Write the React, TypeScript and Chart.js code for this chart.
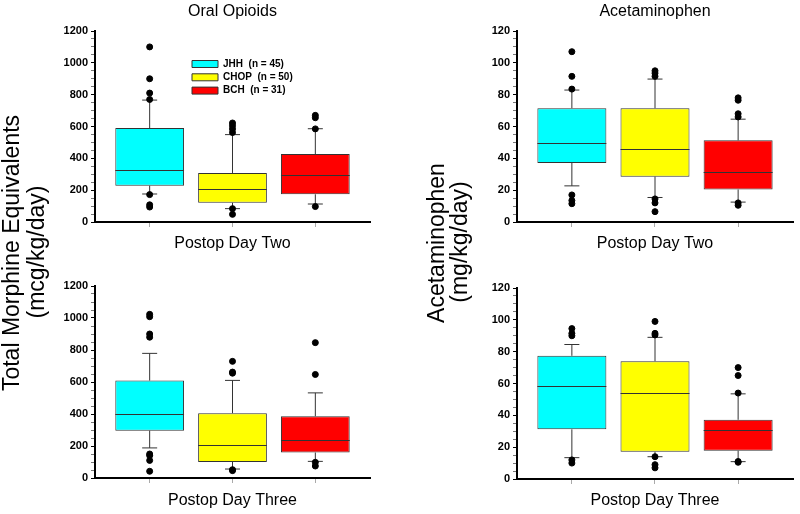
import React, { useEffect, useRef } from 'react';
import { Chart, registerables } from 'chart.js';

Chart.register(...registerables);

const FONT = '"Liberation Sans", Arial, Helvetica, sans-serif';

const hospitals = ['JHH', 'CHOP', 'BCH'];
const legendLabels = ['JHH  (n = 45)', 'CHOP  (n = 50)', 'BCH  (n = 31)'];
const boxColors = ['#00FFFF', '#FFFF00', '#FF0000'];
const positions = [1, 2, 3];

const opioidMajorTicks = [0, 200, 400, 600, 800, 1000, 1200];
const acetMajorTicks = [0, 20, 40, 60, 80, 100, 120];

// each row: [lower whisker, Q1, median, Q3, upper whisker] for JHH, CHOP, BCH
const opioidDay2Stats = [
  [176, 228, 327, 590, 766],
  [84, 121, 205, 308, 549],
  [113, 174, 297, 427, 586],
];
const opioidDay2Outliers = [
  [1100, 900, 810, 770, 172, 108, 94],
  [622, 605, 585, 562, 84, 48],
  [670, 655, 585, 97],
];

const acetDay2Stats = [
  [22.7, 37.1, 49.8, 71.5, 82.9],
  [15.4, 28.5, 46, 71.5, 89.8],
  [12.5, 20.4, 31.3, 51.3, 64.6],
];
const acetDay2Outliers = [
  [107, 91.5, 83.5, 17, 13.5, 11.5],
  [95, 93.5, 91.5, 14.5, 12, 6.5],
  [78, 76.5, 68, 66, 12, 10.5],
];

const opioidDay3Stats = [
  [188, 296, 399, 609, 779],
  [56, 100, 209, 405, 610],
  [104, 159, 240, 386, 532],
];
const opioidDay3Outliers = [
  [1023, 1008, 900, 880, 150, 140, 110, 42],
  [729, 662, 655, 52, 46],
  [846, 647, 98, 75],
];

const acetDay3Stats = [
  [13.4, 31.2, 58.5, 77.4, 84.5],
  [14, 17.1, 53.9, 74, 89],
  [10.9, 17.8, 30.5, 37.2, 53.5],
];
const acetDay3Outliers = [
  [94.5, 91.5, 90, 12, 10],
  [99, 91.5, 90.5, 14, 9, 7],
  [70, 65, 54, 11, 10.5],
];

type PanelProps = {
  stats: number[][];
  outliers: number[][];
  title?: string;
  xTitle: string;
  yMax: number;
  minorStep: number;
  majorTicks: number[];
  showLegend: boolean;
  left: number;
  top: number;
  yWidth: number;
  padRight: number;
  padTop: number;
  xHeight: number;
};

function Panel(p: PanelProps) {
  const ref = useRef<HTMLCanvasElement | null>(null);

  useEffect(() => {
    const canvas = ref.current;
    if (!canvas) return;

    const boxPlugin = {
      id: 'boxWhiskers',
      beforeDatasetsDraw(chart: any) {
        const { ctx, scales } = chart;
        const xs = scales.x;
        const ys = scales.y;
        ctx.save();
        ctx.strokeStyle = '#333';
        ctx.lineWidth = 1;
        p.stats.forEach((s, i) => {
          const cx = xs.getPixelForValue(positions[i]);
          const cap = 7.5;
          const yLo = ys.getPixelForValue(s[0]);
          const yQ1 = ys.getPixelForValue(s[1]);
          const yQ3 = ys.getPixelForValue(s[3]);
          const yHi = ys.getPixelForValue(s[4]);
          ctx.beginPath();
          ctx.moveTo(cx, yQ3);
          ctx.lineTo(cx, yHi);
          ctx.moveTo(cx - cap, yHi);
          ctx.lineTo(cx + cap, yHi);
          ctx.moveTo(cx, yQ1);
          ctx.lineTo(cx, yLo);
          ctx.moveTo(cx - cap, yLo);
          ctx.lineTo(cx + cap, yLo);
          ctx.stroke();
        });
        ctx.restore();
      },
      afterDatasetsDraw(chart: any) {
        const { ctx, scales } = chart;
        const xs = scales.x;
        const ys = scales.y;
        ctx.save();
        ctx.strokeStyle = '#333';
        ctx.lineWidth = 1;
        p.stats.forEach((s, i) => {
          const meta = chart.getDatasetMeta(i + 1);
          const el = meta && meta.data[0];
          const half = el ? el.width / 2 : 30;
          const cx = xs.getPixelForValue(positions[i]);
          const ym = Math.round(ys.getPixelForValue(s[2])) + 0.5;
          ctx.beginPath();
          ctx.moveTo(cx - half, ym);
          ctx.lineTo(cx + half, ym);
          ctx.stroke();
        });
        ctx.restore();
      },
    };

    const legendPlace = {
      id: 'legendPlace',
      afterLayout(chart: any) {
        const lg = chart.legend;
        if (!lg || !p.showLegend) return;
        const w = lg.width;
        const h = lg.height;
        lg.left = 188.7;
        lg.top = 55.7;
        lg.right = lg.left + w;
        lg.bottom = lg.top + h;
      },
    };

    const datasets: any[] = [
      {
        type: 'scatter',
        label: 'outliers',
        data: p.outliers.flatMap((arr, i) => arr.map((v) => ({ x: positions[i], y: v }))),
        backgroundColor: '#000',
        borderColor: '#000',
        pointRadius: 3,
        pointHoverRadius: 3,
        order: 0,
      },
      ...hospitals.map((h, i) => ({
        type: 'bar',
        label: legendLabels[i],
        data: [{ x: positions[i], y: [p.stats[i][1], p.stats[i][3]] }],
        backgroundColor: boxColors[i],
        borderColor: '#333',
        borderWidth: 1,
        borderSkipped: false,
        grouped: false,
        categoryPercentage: 1,
        barPercentage: 0.83,
        order: 1,
      })),
    ];

    const chart = new Chart(canvas, {
      type: 'bar',
      data: { datasets },
      options: {
        responsive: false,
        animation: false,
        events: [],
        layout: { padding: { left: 0, right: p.padRight, top: p.padTop, bottom: 0 } },
        scales: {
          x: {
            type: 'linear',
            min: 0.34,
            max: 3.66,
            offset: false,
            afterBuildTicks: (s: any) => {
              s.ticks = positions.map((v) => ({ value: v }));
            },
            afterFit: (s: any) => {
              s.height = p.xHeight;
            },
            ticks: { display: false },
            grid: {
              display: true,
              offset: false,
              drawOnChartArea: false,
              drawTicks: true,
              tickLength: 5,
              tickColor: '#aaa',
            },
            border: { display: true, color: '#000', width: 2 },
            title: {
              display: true,
              text: p.xTitle,
              color: '#000',
              font: { family: FONT, size: 16 },
              padding: { top: 0, bottom: 3.4 },
            },
          },
          y: {
            type: 'linear',
            min: 0,
            max: p.yMax,
            afterFit: (s: any) => {
              s.width = p.yWidth;
            },
            ticks: {
              stepSize: p.minorStep,
              autoSkip: false,
              padding: 3,
              color: '#000',
              font: { family: FONT, size: 11, weight: 'bold' },
              callback: (v: any) => (p.majorTicks.includes(Number(v)) ? String(v) : ''),
            },
            grid: {
              display: true,
              drawOnChartArea: false,
              drawTicks: true,
              tickLength: 4,
              tickWidth: 1,
              tickColor: (c: any) => (p.majorTicks.includes(c.tick && c.tick.value) ? '#000' : '#777'),
            },
            border: { display: true, color: '#000', width: 2 },
          },
        },
        plugins: {
          title: {
            display: !!p.title,
            text: p.title || '',
            fullSize: false,
            color: '#000',
            font: { family: FONT, size: 16, weight: 'normal' },
            padding: { top: 2.4, bottom: 9.4 },
          },
          legend: {
            display: p.showLegend,
            position: 'chartArea',
            align: 'start',
            labels: {
              boxWidth: 26,
              boxHeight: 7,
              padding: 3.3,
              color: '#000',
              font: { family: FONT, size: 10, weight: 'bold', lineHeight: 1.2 },
              filter: (item: any) => item.datasetIndex > 0,
            },
          },
          tooltip: { enabled: false },
        },
      } as any,
      plugins: [boxPlugin, legendPlace],
    });

    return () => chart.destroy();
  }, []);

  return (
    <canvas
      ref={ref}
      width={400}
      height={257}
      style={{ position: 'absolute', left: p.left, top: p.top, width: 400, height: 257 }}
    />
  );
}

function RotLabel({ text, cx, cy, size }: { text: string; cx: number; cy: number; size: number }) {
  return (
    <div
      style={{
        position: 'absolute',
        left: cx,
        top: cy,
        transform: 'translate(-50%, -50%) rotate(-90deg)',
        whiteSpace: 'nowrap',
        fontFamily: FONT,
        fontSize: size,
        lineHeight: 1,
        color: '#000',
      }}
    >
      {text}
    </div>
  );
}

export default function App() {
  return (
    <div
      style={{
        position: 'fixed',
        left: 0,
        top: 0,
        width: 800,
        height: 514,
        background: '#fff',
        overflow: 'hidden',
      }}
    >
      <Panel
        stats={opioidDay2Stats}
        outliers={opioidDay2Outliers}
        title="Oral Opioids"
        xTitle="Postop Day Two"
        yMax={1200}
        minorStep={50}
        majorTicks={opioidMajorTicks}
        showLegend={true}
        left={0}
        top={0}
        yWidth={95}
        padRight={30}
        padTop={0}
        xHeight={35}
      />
      <Panel
        stats={acetDay2Stats}
        outliers={acetDay2Outliers}
        title="Acetaminophen"
        xTitle="Postop Day Two"
        yMax={120}
        minorStep={5}
        majorTicks={acetMajorTicks}
        showLegend={false}
        left={400}
        top={0}
        yWidth={117}
        padRight={7}
        padTop={0}
        xHeight={35}
      />
      <Panel
        stats={opioidDay3Stats}
        outliers={opioidDay3Outliers}
        xTitle="Postop Day Three"
        yMax={1200}
        minorStep={50}
        majorTicks={opioidMajorTicks}
        showLegend={false}
        left={0}
        top={257}
        yWidth={95}
        padRight={30}
        padTop={29}
        xHeight={36}
      />
      <Panel
        stats={acetDay3Stats}
        outliers={acetDay3Outliers}
        xTitle="Postop Day Three"
        yMax={120}
        minorStep={5}
        majorTicks={acetMajorTicks}
        showLegend={false}
        left={400}
        top={257}
        yWidth={117}
        padRight={7}
        padTop={31}
        xHeight={35}
      />
      <RotLabel text="Total Morphine Equivalents" cx={11} cy={253} size={23} />
      <RotLabel text="(mcg/kg/day)" cx={36} cy={252} size={23} />
      <RotLabel text="Acetaminophen" cx={436} cy={243} size={23} />
      <RotLabel text="(mg/kg/day)" cx={459} cy={242} size={23} />
    </div>
  );
}
